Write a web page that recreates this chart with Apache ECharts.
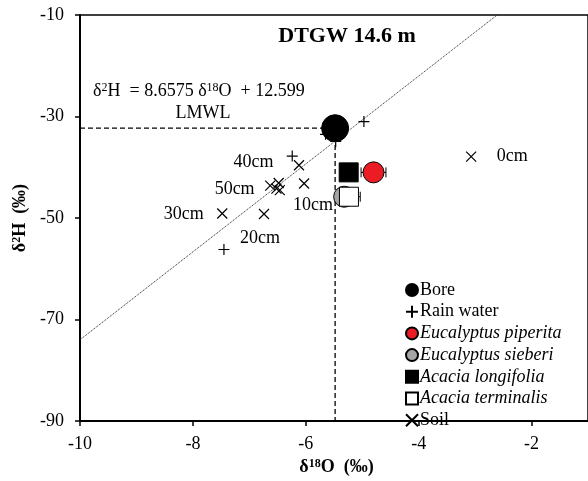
<!DOCTYPE html>
<html>
<head>
<meta charset="utf-8">
<script src="https://cdn.jsdelivr.net/npm/echarts@6/dist/echarts.min.js"></script>
<style>html,body{margin:0;padding:0;background:#fff}#c{width:588px;height:481px}</style>
</head>
<body>
<div id="c"></div>
<script>
// ---------- data ----------
const xTicks = [-10, -8, -6, -4, -2];
const yTicks = [-90, -70, -50, -30, -10];
const lmwlSlope = 8.6575;
const lmwlIntercept = 12.599;
const bore = [[-5.48, -32.3]];
const rainWater = [[-4.97, -31.0], [-6.24, -37.8], [-7.45, -56.2], [-5.47, -34.9], [-5.65, -33.5]];
const euPiperita = [[-4.80, -41.0]];
const euPiperitaErr = [0.22];
const euSieberi = [[-5.32, -45.8]];
const acLongifolia = [[-5.24, -41.0]];
const acTerminalis = [[-5.235, -45.8]];
const acTerminalisErr = [0.2];
const soil = [[-3.07, -37.9], [-6.12, -39.6], [-6.03, -43.2], [-6.63, -43.6], [-6.48, -43.1], [-6.52, -44.2], [-6.46, -44.5], [-7.48, -49.1], [-6.74, -49.2]];
const soilDepth = ['0cm', '40cm', '10cm', '50cm', '', '', '', '30cm', '20cm'];

// ---------- styling ----------
const FONT = 'Liberation Serif';
const plusPath = 'path://M5,0L5,10M0,5L10,5';
const crossPath = 'path://M0,0L10,10M10,0L0,10';
const labelPlace = {
  '0cm':  { position: 'right',  distance: 20, offset: [0, 0] },
  '40cm': { position: 'left',   distance: 20, offset: [0, -3] },
  '10cm': { position: 'bottom', distance: 7,  offset: [9, 0] },
  '50cm': { position: 'left',   distance: 10, offset: [0, 4] },
  '30cm': { position: 'left',   distance: 13, offset: [0, 1] },
  '20cm': { position: 'bottom', distance: 10, offset: [-4, 0] }
};
const xMin = -10, xMax = -1, yMin = -90, yMax = -10;
const lmwlLine = [[xMin, lmwlSlope * xMin + lmwlIntercept], [(yMax - lmwlIntercept) / lmwlSlope, yMax]];
const refLine = [[xMin, bore[0][1]], [bore[0][0], bore[0][1]], [bore[0][0], yMin]];

const soilData = soil.map((p, i) => {
  const d = soilDepth[i];
  if (!d) return { value: p };
  const pl = labelPlace[d];
  return { value: p, label: { show: true, formatter: d, position: pl.position, distance: pl.distance, offset: pl.offset,
    fontFamily: FONT, fontSize: 18, color: '#000' } };
});
const errData = euPiperita.map((p, i) => [p[0], p[1], euPiperitaErr[i]])
  .concat(acTerminalis.map((p, i) => [p[0], p[1], acTerminalisErr[i]]));

const supRich = { sup: { fontSize: 12, verticalAlign: 'top', lineHeight: 12, fontFamily: FONT, fontWeight: 'bold' } };

const chart = echarts.init(document.getElementById('c'), null, { renderer: 'canvas' });
chart.setOption({
  animation: false,
  backgroundColor: '#fff',
  grid: { left: 80, top: 15, width: 517.5, height: 413, show: true, borderColor: '#000', borderWidth: 1.5, backgroundColor: 'transparent' },
  xAxis: {
    type: 'value', min: xMin, max: xMax,
    name: 'δ{sup|18}O  (‰)', nameLocation: 'middle', nameGap: 30,
    nameTextStyle: { fontFamily: FONT, fontSize: 18, fontWeight: 'bold', color: '#000', rich: supRich, padding: [0, 0, 0, 5] },
    axisLine: { lineStyle: { color: '#000', width: 2 } },
    axisTick: { show: true, customValues: xTicks, length: 5, lineStyle: { color: '#000', width: 1.5 } },
    axisLabel: { customValues: xTicks, fontFamily: FONT, fontSize: 18, color: '#000', margin: 14 },
    splitLine: { show: false }
  },
  yAxis: {
    type: 'value', min: yMin, max: yMax,
    name: 'δ{sup|2}H  (‰)', nameLocation: 'middle', nameGap: 50, nameRotate: 90,
    nameTextStyle: { fontFamily: FONT, fontSize: 18, fontWeight: 'bold', color: '#000', rich: supRich },
    axisLine: { lineStyle: { color: '#000', width: 2 } },
    axisTick: { show: true, customValues: yTicks, length: 5, lineStyle: { color: '#000', width: 1.5 } },
    axisLabel: { customValues: yTicks, fontFamily: FONT, fontSize: 18, color: '#000', margin: 16 },
    splitLine: { show: false }
  },
  legend: {
    orient: 'vertical', left: 400, top: 276, itemWidth: 12, itemHeight: 12, itemGap: 3.7,
    textStyle: { fontFamily: FONT, fontSize: 18, color: '#000', lineHeight: 18, padding: [0, 0, 0, -3] },
    data: [
      { name: 'Bore', icon: 'circle' },
      { name: 'Rain water', icon: plusPath },
      { name: 'Eucalyptus piperita', icon: 'circle', textStyle: { fontStyle: 'italic' } },
      { name: 'Eucalyptus sieberi', icon: 'circle', textStyle: { fontStyle: 'italic' } },
      { name: 'Acacia longifolia', icon: 'rect', textStyle: { fontStyle: 'italic' } },
      { name: 'Acacia terminalis', icon: 'rect', textStyle: { fontStyle: 'italic' } },
      { name: 'Soil', icon: crossPath }
    ]
  },
  graphic: [
    { type: 'text', style: { text: 'DTGW 14.6 m', x: 347, y: 36, font: 'bold 22px "Liberation Serif"', fill: '#000', align: 'center', verticalAlign: 'middle' }, silent: true },
    { type: 'text', style: { x: 93, y: 91, text: 'δ{s|2}H  = 8.6575 δ{s|18}O  + 12.599', fontFamily: FONT, fontSize: 18, fill: '#000', verticalAlign: 'middle',
      rich: { s: { fontSize: 12, verticalAlign: 'top', lineHeight: 12, fontFamily: FONT } } }, silent: true },
    { type: 'text', style: { x: 203, y: 113, text: 'LMWL', fontFamily: FONT, fontSize: 18, fill: '#000', align: 'center', verticalAlign: 'middle' }, silent: true }
  ],
  series: [
    { type: 'line', data: lmwlLine, symbol: 'none', lineStyle: { type: 'dotted', width: 1, color: '#222' }, silent: true, z: 1 },
    { type: 'line', data: refLine, symbol: 'none', lineStyle: { type: [5, 3], width: 1.3, color: '#000' }, silent: true, z: 1 },
    { type: 'custom', data: errData, z: 2, silent: true,
      renderItem: function (params, api) {
        const x = api.value(0), y = api.value(1), e = api.value(2);
        const a = api.coord([x - e, y]), b = api.coord([x + e, y]);
        const st = { stroke: '#000', lineWidth: 1 };
        return { type: 'group', children: [
          { type: 'line', shape: { x1: a[0], y1: a[1], x2: b[0], y2: b[1] }, style: st },
          { type: 'line', shape: { x1: a[0], y1: a[1] - 5, x2: a[0], y2: a[1] + 5 }, style: st },
          { type: 'line', shape: { x1: b[0], y1: b[1] - 5, x2: b[0], y2: b[1] + 5 }, style: st }
        ] };
      } },
    { name: 'Eucalyptus sieberi', type: 'scatter', data: euSieberi, symbol: 'circle', symbolSize: 21, z: 3,
      itemStyle: { color: '#a5a5a5', borderColor: '#000', borderWidth: 1, opacity: 1 } },
    { name: 'Acacia terminalis', type: 'scatter', data: acTerminalis, symbol: 'rect', symbolSize: 19, z: 3,
      itemStyle: { color: '#fff', borderColor: '#000', borderWidth: 1, opacity: 1 } },
    { name: 'Eucalyptus piperita', type: 'scatter', data: euPiperita, symbol: 'circle', symbolSize: 21, z: 3,
      itemStyle: { color: '#ec1c24', borderColor: '#000', borderWidth: 1, opacity: 1 } },
    { name: 'Acacia longifolia', type: 'scatter', data: acLongifolia, symbol: 'rect', symbolSize: 19, z: 3,
      itemStyle: { color: '#000', borderColor: '#000', borderWidth: 1, opacity: 1 } },
    { name: 'Rain water', type: 'scatter', data: rainWater, symbol: plusPath, symbolSize: 11, z: 3,
      itemStyle: { color: 'transparent', borderColor: '#000', borderWidth: 1.2, opacity: 1 } },
    { name: 'Bore', type: 'scatter', data: bore, symbol: 'circle', symbolSize: 27, z: 4,
      itemStyle: { color: '#000', borderColor: '#000', borderWidth: 1, opacity: 1 } },
    { name: 'Soil', type: 'scatter', data: soilData, symbol: crossPath, symbolSize: 10, z: 4,
      itemStyle: { color: 'transparent', borderColor: '#000', borderWidth: 1.2, opacity: 1 } }
  ]
});
</script>
</body>
</html>
